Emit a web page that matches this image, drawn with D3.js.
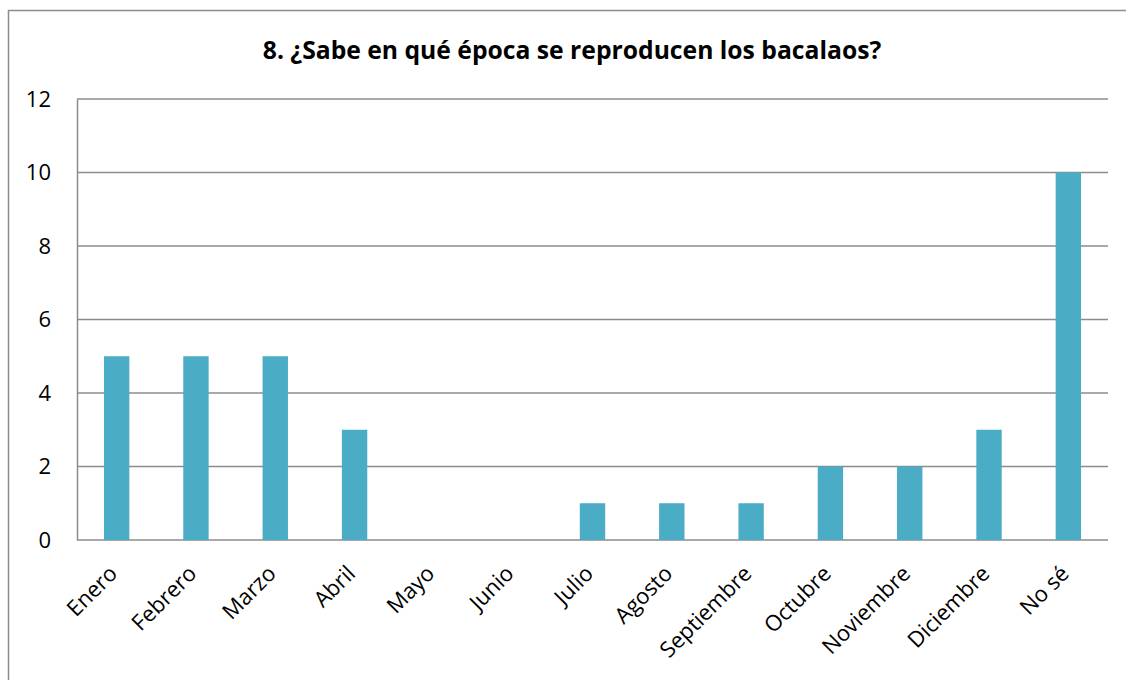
<!DOCTYPE html>
<html>
<head>
<meta charset="utf-8">
<script src="https://cdn.jsdelivr.net/npm/d3@7"></script>
<style>
  body { margin: 0; background: #fff; }
  text { font-family: "Open Sans", "DejaVu Sans", sans-serif; fill: #000; }
</style>
</head>
<body>
<script>
var categories = ['Enero', 'Febrero', 'Marzo', 'Abril', 'Mayo', 'Junio', 'Julio', 'Agosto',
  'Septiembre', 'Octubre', 'Noviembre', 'Diciembre', 'No sé'];
var values = [5, 5, 5, 3, 0, 0, 1, 1, 1, 2, 2, 3, 10];
var yTicks = [0, 2, 4, 6, 8, 10, 12];
var title = '8. ¿Sabe en qué época se reproducen los bacalaos?';

var W = 1126, H = 680;
var margin = { left: 77, right: 18, top: 99, bottom: 140 };
var width = W - margin.left - margin.right;
var height = H - margin.top - margin.bottom;

var svg = d3.select('body').append('svg')
  .attr('width', W)
  .attr('height', H);

// outer chart frame (right and bottom edges run off the page)
svg.append('rect')
  .attr('x', 8.5).attr('y', 10.5)
  .attr('width', 1140).attr('height', 700)
  .attr('fill', 'none')
  .attr('stroke', '#8c8c8c')
  .attr('stroke-width', 1.5);

svg.append('text')
  .attr('x', 572)
  .attr('y', 59)
  .attr('text-anchor', 'middle')
  .attr('font-size', '24.7px')
  .attr('font-weight', 'bold')
  .text(title);

var g = svg.append('g').attr('transform', 'translate(' + margin.left + ',' + margin.top + ')');

var x = d3.scaleBand().domain(categories).range([0, width]).paddingInner(0.68).paddingOuter(0.34);
var y = d3.scaleLinear().domain([0, 12]).range([height, 0]);

// gridlines
g.selectAll('.grid')
  .data(yTicks)
  .enter()
  .append('line')
  .attr('class', 'grid')
  .attr('x1', 0).attr('x2', width)
  .attr('y1', function(d) { return y(d); })
  .attr('y2', function(d) { return y(d); })
  .attr('stroke', '#8c8c8c')
  .attr('stroke-width', 1.5);

// y axis
var yAxis = g.append('g').call(d3.axisLeft(y).tickValues(yTicks).tickSize(0).tickPadding(26));
yAxis.select('.domain').attr('stroke', '#8c8c8c').attr('stroke-width', 1.5);
yAxis.selectAll('text').attr('font-size', '22px').style('font-family', '"Open Sans", sans-serif');

// bars
g.selectAll('.bar')
  .data(values)
  .enter()
  .append('rect')
  .attr('class', 'bar')
  .attr('x', function(d, i) { return x(categories[i]); })
  .attr('y', function(d) { return y(d); })
  .attr('width', x.bandwidth())
  .attr('height', function(d) { return height - y(d); })
  .attr('fill', '#4bacc6');

// x axis labels
var xAxis = g.append('g')
  .attr('transform', 'translate(0,' + height + ')')
  .call(d3.axisBottom(x).tickSize(0).tickPadding(0));
xAxis.select('.domain').remove();
xAxis.selectAll('text')
  .attr('font-size', '22px')
  .style('font-family', '"Open Sans", sans-serif')
  .attr('text-anchor', 'end')
  .attr('dy', '0')
  .attr('transform', 'translate(2,35) rotate(-45)');
</script>
</body>
</html>
